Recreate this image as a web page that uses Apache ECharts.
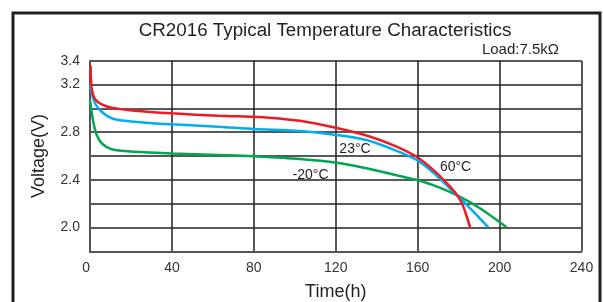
<!DOCTYPE html>
<html>
<head>
<meta charset="utf-8">
<script src="https://cdn.jsdelivr.net/npm/echarts@6/dist/echarts.min.js"></script>
<style>
  html, body { margin: 0; padding: 0; background: #fff; }
  #chart { width: 603px; height: 302px; }
</style>
</head>
<body>
<div id="chart"></div>
<script>
// time (h) / voltage (V)
const t60 = [0.3, 0.8, 2.4, 5.7, 10.6, 22, 40, 62.7, 78, 86, 102.5, 120.5, 135, 148, 159.5, 167.6, 175.8, 179.8, 182.3, 184, 185.6]
const v60 = [3.36, 3.17, 3.08, 3.034, 3.006, 2.98, 2.958, 2.938, 2.93, 2.924, 2.896, 2.835, 2.772, 2.692, 2.594, 2.483, 2.343, 2.259, 2.175, 2.09, 2.0]

const t23 = [0, 1.6, 4.1, 8.9, 13.8, 27, 40, 62.7, 80, 102.5, 120.5, 135, 148, 159.5, 167.6, 179.8, 187.2, 194.5]
const v23 = [3.196, 3.08, 3.0, 2.93, 2.902, 2.88, 2.866, 2.846, 2.827, 2.81, 2.776, 2.734, 2.655, 2.567, 2.46, 2.259, 2.133, 2.0]

const tM20 = [0, 1.6, 3.3, 5.7, 10.6, 22, 40, 62.7, 80, 102.5, 120.5, 135, 148, 159.5, 167.6, 179.8, 190.4, 203.5]
const vM20 = [3.07, 2.888, 2.776, 2.707, 2.656, 2.636, 2.622, 2.609, 2.597, 2.575, 2.544, 2.497, 2.445, 2.398, 2.355, 2.265, 2.161, 2.0]

const yLabels = ['3.4', '3.2', '2.8', '2.4', '2.0']

// curve labels: [time, voltage, text]
const tags = [
  [129.4, 2.66, '23°C'],
  [107.7, 2.44, '-20°C'],
  [178.5, 2.51, '60°C']
]

const font = 'Liberation Sans, Arial, sans-serif'
const pair = (t, v) => t.map((x, i) => [x, v[i]])

const chart = echarts.init(document.getElementById('chart'))

function line(name, color, t, v, extra) {
  return Object.assign({
    name,
    type: 'line',
    data: pair(t, v),
    smooth: 0.3,
    showSymbol: false,
    lineStyle: { color, width: 2.5 },
    z: 3
  }, extra)
}

const option = {
  animation: false,
  title: [
    {
      text: 'CR2016 Typical Temperature Characteristics',
      left: 325,
      top: 21,
      textAlign: 'center',
      padding: 0,
      textStyle: { fontFamily: font, fontSize: 18.8, fontWeight: 'normal', color: '#231f20' }
    },
    {
      text: 'Load:7.5kΩ',
      right: 44,
      top: 42,
      padding: 0,
      textStyle: { fontFamily: font, fontSize: 15, fontWeight: 'normal', color: '#231f20' }
    }
  ],
  graphic: [
    {
      type: 'rect',
      shape: { x: 13, y: 13, width: 587, height: 310 },
      style: { fill: 'none', stroke: '#231f20', lineWidth: 3 }
    }
  ],
  grid: { left: 90, right: 21.5, top: 60.7, bottom: 50.7, outerBoundsMode: 'none' },
  xAxis: {
    type: 'value',
    min: 0,
    max: 240,
    interval: 40,
    name: 'Time(h)',
    nameLocation: 'middle',
    nameGap: 32,
    nameTextStyle: { fontFamily: font, fontSize: 18, color: '#231f20' },
    axisLine: { lineStyle: { color: '#555', width: 2 } },
    axisTick: { show: false },
    axisLabel: { margin: 10, alignMinLabel: 'right', fontFamily: font, fontSize: 14, color: '#333' },
    splitLine: { lineStyle: { color: '#222', width: 1.5 } }
  },
  yAxis: {
    type: 'value',
    min: 1.8,
    max: 3.4,
    interval: 0.2,
    name: 'Voltage(V)',
    nameLocation: 'middle',
    nameGap: 42,
    nameTextStyle: { fontFamily: font, fontSize: 18, color: '#231f20' },
    axisLine: { show: true, lineStyle: { color: '#555', width: 2 } },
    axisTick: { show: false },
    axisLabel: {
      margin: 10,
      fontFamily: font,
      fontSize: 14,
      color: '#333',
      formatter: val => {
        const s = val.toFixed(1)
        return yLabels.indexOf(s) >= 0 ? s : ''
      }
    },
    splitLine: { lineStyle: { color: '#222', width: 1.5 } }
  },
  series: [
    line('-20°C', '#00a651', tM20, vM20, {
      markPoint: {
        symbolSize: 0,
        label: { show: true, formatter: p => p.name, fontFamily: font, fontSize: 14, color: '#231f20' },
        data: tags.map(d => ({ name: d[2], coord: [d[0], d[1]] }))
      }
    }),
    line('23°C', '#00aeef', t23, v23),
    line('60°C', '#ed1c24', t60, v60)
  ]
}

chart.setOption(option)
</script>
</body>
</html>
